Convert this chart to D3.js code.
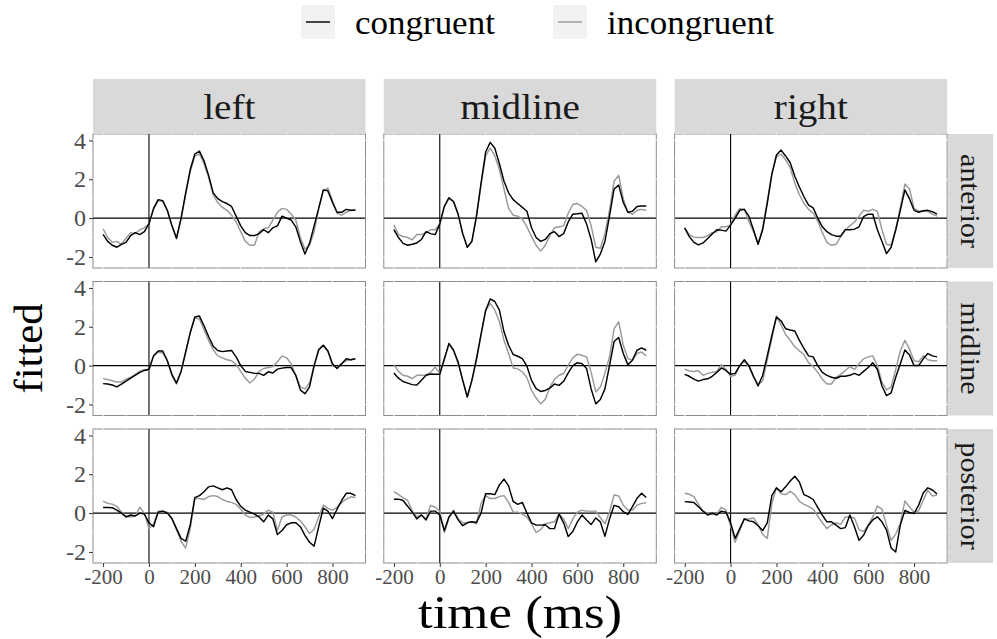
<!DOCTYPE html>
<html>
<head>
<meta charset="utf-8">
<script src="https://cdn.jsdelivr.net/npm/d3@7"></script>
<style>
  body { margin: 0; background: #fff; }
  svg { display: block; }
  text { font-family: "Liberation Serif", "Times New Roman", serif; }
</style>
</head>
<body>
<svg id="chart" width="997" height="639"></svg>
<script>
// Sampling grid (ms) shared by every waveform
const times = [-200,-180,-160,-140,-120,-100,-80,-60,-40,-20,0,20,40,60,80,100,120,140,160,180,
  200,220,240,260,280,300,320,340,360,380,400,420,440,460,480,500,520,540,560,580,
  600,620,640,660,680,700,720,740,760,780,800,820,840,860,880,900];

const hemispheres = ["left", "midline", "right"];      // facet columns
const regions = ["anterior", "midline", "posterior"];  // facet rows
const conditions = ["congruent", "incongruent"];
const conditionColors = ["#000000", "#999999"];

const xTicks = [-200, 0, 200, 400, 600, 800];
const yTicks = [-2, 0, 2, 4];

// anterior row
const antLeftCong = [-0.84,-1.2,-1.4,-1.5,-1.35,-1.25,-0.9,-0.75,-0.85,-0.7,-0.3,0.5,0.95,0.9,0.4,-0.4,-1.05,0.0,1.3,2.5,
  3.3,3.45,2.95,2.2,1.3,1.0,0.85,0.75,0.6,0.1,-0.4,-0.75,-0.9,-0.9,-0.8,-0.6,-0.75,-0.5,-0.4,0.1,
  0.0,-0.1,-0.45,-1.2,-1.85,-1.3,-0.4,0.5,1.45,1.4,0.8,0.3,0.3,0.45,0.4,0.4];
const antLeftIncong = [-0.55,-1.0,-1.25,-1.2,-1.35,-1.05,-0.75,-0.8,-0.6,-0.5,-0.3,0.45,0.9,0.85,0.4,-0.35,-1.0,-0.05,1.2,2.4,
  3.2,3.3,2.8,2.1,1.2,0.8,0.55,0.4,0.15,-0.2,-0.7,-1.2,-1.4,-1.4,-0.7,-0.55,-0.5,-0.1,0.3,0.5,
  0.45,0.2,-0.1,-1.0,-1.6,-1.4,-0.7,0.5,1.4,1.55,0.9,0.25,0.15,0.3,0.4,0.45];
const antMidCong = [-0.6,-1.0,-1.3,-1.4,-1.35,-1.28,-1.1,-0.7,-0.8,-0.85,-0.3,0.6,1.05,0.85,0.2,-0.8,-1.5,-1.2,0.1,1.8,
  3.4,3.9,3.6,2.8,1.9,1.3,0.95,0.75,0.55,0.35,-0.5,-1.0,-1.2,-1.1,-0.8,-0.7,-0.95,-0.8,-0.2,0.2,
  0.22,0.25,-0.3,-1.1,-2.25,-1.85,-1.2,0.1,1.5,1.7,0.8,0.3,0.35,0.6,0.62,0.62];
const antMidIncong = [-0.35,-0.85,-0.95,-1.0,-1.12,-0.85,-0.85,-0.75,-0.6,-0.6,-0.3,0.6,1.0,0.85,0.2,-0.8,-1.5,-1.2,0.1,1.7,
  3.2,3.6,3.2,2.5,1.5,0.5,0.15,0.1,-0.05,-0.45,-0.95,-1.4,-1.7,-1.4,-0.9,-0.5,-0.45,-0.4,0.25,0.7,
  0.75,0.6,0.4,-0.4,-1.5,-1.55,-0.8,0.4,1.9,2.2,1.0,0.3,0.2,0.4,0.45,0.4];
const antRightCong = [-0.5,-0.95,-1.25,-1.38,-1.28,-1.05,-0.82,-0.6,-0.62,-0.67,-0.36,0.0,0.4,0.45,0.1,-0.6,-1.35,-0.6,0.75,2.25,
  3.25,3.5,3.2,2.85,2.15,1.6,1.1,0.67,0.53,0.0,-0.45,-0.7,-0.85,-0.93,-0.93,-0.6,-0.6,-0.57,-0.45,0.08,
  0.2,0.2,-0.6,-1.2,-1.83,-1.5,-0.6,0.4,1.45,1.0,0.4,0.3,0.38,0.4,0.33,0.2];
const antRightIncong = [-0.5,-0.85,-0.98,-1.0,-1.0,-0.9,-0.75,-0.7,-0.45,-0.45,-0.35,0.15,0.5,0.45,-0.2,-0.7,-1.35,-0.5,0.9,2.3,
  3.15,3.3,3.0,2.6,1.8,1.2,0.75,0.45,0.25,-0.15,-0.75,-1.25,-1.4,-1.35,-0.95,-0.6,-0.4,-0.2,0.1,0.4,
  0.35,0.45,0.35,-0.6,-1.35,-1.4,-0.6,0.55,1.75,1.5,0.5,0.35,0.35,0.35,0.2,0.1];

// midline row
const midLeftCong = [-0.93,-0.95,-1.0,-1.1,-0.95,-0.8,-0.65,-0.5,-0.35,-0.25,-0.19,0.5,0.75,0.75,0.25,-0.45,-0.9,-0.3,0.7,1.7,
  2.5,2.55,2.05,1.5,1.0,0.78,0.72,0.75,0.78,0.45,0.0,-0.3,-0.35,-0.4,-0.4,-0.5,-0.32,-0.38,-0.18,-0.13,
  -0.1,-0.1,-0.5,-1.25,-1.45,-1.1,0.0,0.8,1.05,0.75,0.1,-0.15,0.1,0.35,0.3,0.35];
const midLeftIncong = [-0.67,-0.72,-0.78,-0.85,-0.85,-0.7,-0.6,-0.45,-0.3,-0.2,-0.25,0.5,0.7,0.65,0.25,-0.5,-0.95,-0.3,0.7,1.7,
  2.45,2.4,1.85,1.3,0.8,0.5,0.4,0.3,0.25,0.05,-0.3,-0.65,-0.9,-0.7,-0.3,-0.15,-0.1,-0.05,0.2,0.5,
  0.4,0.1,-0.5,-1.1,-1.2,-0.9,0.0,0.85,1.05,0.75,0.0,-0.1,0.1,0.25,0.3,0.35];
const midMidCong = [-0.38,-0.65,-0.82,-0.9,-0.98,-1.0,-0.75,-0.5,-0.43,-0.45,-0.45,0.36,1.14,0.79,0.19,-0.76,-1.62,-0.76,0.36,1.62,
  2.83,3.43,3.3,2.86,1.74,1.05,0.57,0.48,0.36,-0.03,-0.76,-1.19,-1.33,-1.28,-1.16,-0.95,-1.02,-0.81,-0.38,0.0,
  0.15,0.1,-0.15,-1.2,-1.97,-1.75,-1.2,0.0,1.24,1.45,0.62,0.05,0.28,0.79,0.91,0.79];
const midMidIncong = [0.05,-0.3,-0.5,-0.55,-0.67,-0.5,-0.5,-0.48,-0.35,-0.07,-0.4,0.28,1.1,0.8,0.1,-0.75,-1.6,-0.76,0.24,1.57,
  2.86,3.2,2.86,2.26,1.3,0.62,-0.12,-0.17,-0.33,-0.62,-1.28,-1.67,-1.97,-1.74,-1.1,-0.72,-0.5,-0.41,0.02,0.4,
  0.59,0.52,0.45,-0.35,-1.35,-1.1,-0.4,0.45,1.9,2.25,1.05,0.36,0.28,0.62,0.7,0.5];
const midRightCong = [-0.45,-0.55,-0.7,-0.8,-0.72,-0.68,-0.55,-0.35,-0.12,-0.25,-0.45,-0.4,0.0,0.3,0.0,-0.55,-1.05,-0.5,0.5,1.55,
  2.5,2.3,1.9,1.83,1.78,1.3,0.88,0.5,0.45,0.0,-0.35,-0.5,-0.6,-0.65,-0.55,-0.55,-0.5,-0.4,-0.5,-0.3,
  -0.1,0.15,-0.2,-1.05,-1.55,-1.4,-0.6,0.1,0.8,0.55,0.0,0.0,0.35,0.62,0.5,0.45];
const midRightIncong = [-0.19,-0.28,-0.3,-0.27,-0.5,-0.4,-0.35,-0.3,0.05,-0.2,-0.55,-0.5,0.0,0.22,-0.05,-0.6,-0.95,-0.8,0.3,1.4,
  2.55,2.1,1.6,1.3,0.97,0.76,0.57,0.15,-0.05,-0.35,-0.7,-0.95,-0.95,-0.6,-0.45,-0.25,-0.05,-0.2,0.1,0.35,
  0.45,0.5,0.0,-0.85,-1.25,-1.1,-0.2,0.75,1.3,0.85,0.25,0.2,0.5,0.3,0.25,0.25];

// posterior row
const postLeftCong = [0.29,0.29,0.28,0.15,0.0,-0.2,-0.1,-0.15,0.0,-0.05,-0.5,-0.7,0.05,0.1,0.0,-0.28,-0.8,-1.3,-1.45,-0.6,
  0.8,0.9,1.1,1.35,1.4,1.3,1.2,1.3,1.2,0.7,0.35,0.15,0.05,-0.05,-0.2,-0.45,-0.1,-0.3,-1.1,-0.9,
  -0.6,-0.5,-0.5,-0.7,-1.15,-1.5,-1.7,-0.7,0.25,0.1,-0.28,0.2,0.65,1.02,1.02,0.9];
const postLeftIncong = [0.62,0.5,0.46,0.35,0.05,-0.15,-0.2,-0.15,0.3,0.0,-0.8,-0.55,0.1,0.1,0.05,-0.3,-0.85,-1.45,-1.8,-0.8,
  0.75,0.75,0.7,0.85,0.9,0.85,0.7,0.6,0.55,0.45,0.2,-0.1,-0.22,-0.2,-0.15,-0.05,0.15,0.05,-0.9,-0.2,
  -0.1,-0.1,-0.2,-0.4,-0.7,-1.05,-0.83,-0.2,0.41,0.24,0.15,0.3,0.55,0.72,0.84,0.8];
const postMidCong = [0.71,0.72,0.65,0.35,0.05,-0.3,-0.1,-0.35,0.1,0.1,-0.1,-0.9,-0.2,0.1,-0.35,-0.65,-0.5,-0.45,-0.48,0.0,
  1.0,1.0,0.95,1.45,1.75,1.4,0.6,0.45,0.55,0.0,-0.5,-0.62,-0.62,-0.6,-0.8,-0.8,-0.05,-0.5,-1.2,-0.95,
  -0.45,-0.1,-0.36,-0.59,-0.25,-0.45,-1.2,-0.3,0.4,0.33,0.07,-0.07,0.33,0.76,1.02,0.8];
const postMidIncong = [1.1,0.95,0.8,0.65,0.1,-0.2,-0.1,-0.3,0.4,0.3,0.1,-1.0,-0.25,0.15,-0.3,-0.5,-0.48,-0.45,-0.55,0.5,
  0.9,0.75,0.75,0.85,0.9,0.55,0.05,0.05,-0.05,-0.2,-0.55,-1.0,-0.85,-0.55,-0.5,-0.45,-0.05,-0.3,-0.8,-0.3,
  0.05,0.15,0.1,0.1,0.1,-0.24,-0.55,0.07,0.93,0.88,0.41,0.16,0.16,0.41,0.5,0.53];
const postRightCong = [0.59,0.57,0.55,0.33,0.1,-0.1,0.0,-0.1,0.1,0.05,-0.5,-1.3,-0.8,-0.3,-0.4,-0.45,-0.65,-0.9,-0.5,0.9,
  1.3,1.1,1.35,1.65,1.9,1.6,0.95,0.85,0.7,0.3,-0.1,-0.45,-0.45,-0.62,-0.8,-0.75,-0.1,-0.7,-1.4,-1.14,
  -0.65,-0.35,-0.19,-0.45,-0.88,-1.8,-2.0,-0.62,0.14,0.03,-0.02,0.41,1.03,1.3,1.19,0.98];
const postRightIncong = [1.02,0.97,0.85,0.45,0.08,0.0,-0.08,-0.05,0.3,0.15,-0.65,-1.5,-0.9,-0.3,-0.3,-0.25,-0.6,-1.1,-1.3,0.5,
  1.3,1.0,0.95,1.12,0.95,0.6,0.45,0.35,0.2,-0.15,-0.5,-0.8,-0.6,-0.5,-0.58,-0.2,-0.2,-0.25,-0.85,-0.95,
  -0.62,-0.2,0.36,0.2,-0.62,-1.4,-1.08,-0.53,0.62,0.33,0.03,0.12,0.67,1.17,0.88,0.93];

// [region][hemisphere] -> [congruent, incongruent]
const waveforms = [
  [[antLeftCong, antLeftIncong], [antMidCong, antMidIncong], [antRightCong, antRightIncong]],
  [[midLeftCong, midLeftIncong], [midMidCong, midMidIncong], [midRightCong, midRightIncong]],
  [[postLeftCong, postLeftIncong], [postMidCong, postMidIncong], [postRightCong, postRightIncong]]
];

// ---- layout ----
const svg = d3.select("#chart");
const panelLeft = 93, panelTop = 134;
const panelW = 272.5, panelH = 134;
const colStep = 290.8, rowStep = 147.5;
const stripH = 55, rightStripW = 45;
const wide = 1.12; // horizontal stretch for the display text

const x = d3.scaleLinear().domain([-244, 944]).range([0, panelW]);
const y = d3.scaleLinear().domain([-2.57, 4.33]).range([panelH, 0]);
const xMinor = [-100, 100, 300, 500, 700, 900];
const yMinor = [-1, 1, 3];

const line = d3.line()
  .x((d, i) => x(times[i]))
  .y(d => y(d));

svg.append("defs").append("clipPath").attr("id", "panel-clip")
  .append("rect").attr("width", panelW).attr("height", panelH);

const signed = d => d < 0 ? "-" + Math.abs(d) : String(d);

regions.forEach((region, r) => {
  hemispheres.forEach((hemi, c) => {
    const px = panelLeft + c * colStep;
    const py = panelTop + r * rowStep;
    const g = svg.append("g").attr("transform", `translate(${px},${py})`);

    g.append("rect").attr("width", panelW).attr("height", panelH)
      .attr("fill", "#fff").attr("stroke", "#8c8c8c").attr("stroke-width", 1);

    // white grid lines, visible only where they cross the border
    const grid = g.append("g").attr("stroke", "#fff");
    xTicks.concat(xMinor).forEach(t => {
      grid.append("line").attr("x1", x(t)).attr("x2", x(t))
        .attr("y1", -0.5).attr("y2", panelH + 0.5)
        .attr("stroke-width", xTicks.includes(t) ? 1.1 : 0.6);
    });
    yTicks.concat(yMinor).forEach(v => {
      grid.append("line").attr("y1", y(v)).attr("y2", y(v))
        .attr("x1", -0.5).attr("x2", panelW + 0.5)
        .attr("stroke-width", yTicks.includes(v) ? 1.1 : 0.6);
    });

    // reference lines at 0 ms and 0 amplitude
    g.append("line").attr("x1", 0).attr("x2", panelW).attr("y1", y(0)).attr("y2", y(0))
      .attr("stroke", "#000").attr("stroke-width", 1.1);
    g.append("line").attr("x1", x(0)).attr("x2", x(0)).attr("y1", 0).attr("y2", panelH)
      .attr("stroke", "#000").attr("stroke-width", 1.1);

    const lines = g.append("g").attr("clip-path", "url(#panel-clip)");
    // incongruent first so the congruent trace sits on top
    [1, 0].forEach(k => {
      lines.append("path").datum(waveforms[r][c][k])
        .attr("d", line).attr("fill", "none")
        .attr("stroke", conditionColors[k]).attr("stroke-width", 1.45)
        .attr("stroke-linejoin", "round");
    });

    // y axis on the first column
    if (c === 0) {
      const ay = g.append("g").call(d3.axisLeft(y).tickValues(yTicks).tickSize(4).tickFormat(signed));
      ay.select(".domain").remove();
      ay.selectAll(".tick line").attr("stroke", "#333");
      ay.selectAll(".tick text").attr("fill", "#4d4d4d").attr("font-size", 24)
        .attr("x", -7).style("font-family", "Liberation Serif, serif");
    }
    // x axis on the bottom row
    if (r === regions.length - 1) {
      const ax = g.append("g").attr("transform", `translate(0,${panelH})`)
        .call(d3.axisBottom(x).tickValues(xTicks).tickSize(4).tickFormat(signed));
      ax.select(".domain").remove();
      ax.selectAll(".tick line").attr("stroke", "#333");
      ax.selectAll(".tick text").attr("fill", "#4d4d4d").attr("font-size", 21)
        .attr("y", 6).style("font-family", "Liberation Serif, serif");
    }
  });
});

// column strips
hemispheres.forEach((hemi, c) => {
  const sx = panelLeft + c * colStep;
  const sy = panelTop - stripH;
  svg.append("rect").attr("x", sx).attr("y", sy).attr("width", panelW).attr("height", stripH)
    .attr("fill", "#d9d9d9");
  svg.append("text")
    .attr("transform", `translate(${sx + panelW / 2},${sy + stripH / 2 + 1}) scale(${wide},1)`)
    .attr("text-anchor", "middle").attr("dominant-baseline", "central")
    .attr("font-size", 35).attr("fill", "#1a1a1a").text(hemi);
});

// row strips
regions.forEach((region, r) => {
  const sx = panelLeft + 2 * colStep + panelW + 1;
  const sy = panelTop + r * rowStep;
  svg.append("rect").attr("x", sx).attr("y", sy).attr("width", rightStripW).attr("height", panelH)
    .attr("fill", "#d9d9d9");
  svg.append("text")
    .attr("transform", `translate(${sx + rightStripW / 2},${sy + panelH / 2}) rotate(90) scale(${wide},1)`)
    .attr("text-anchor", "middle").attr("dominant-baseline", "central")
    .attr("font-size", 27).attr("fill", "#1a1a1a").text(region);
});

// axis titles
const gridRight = panelLeft + 2 * colStep + panelW;
svg.append("text")
  .attr("transform", `translate(${(panelLeft + gridRight) / 2},628) scale(1.15,1)`)
  .attr("text-anchor", "middle").attr("font-size", 46).attr("fill", "#000").text("time (ms)");
svg.append("text")
  .attr("transform", `translate(28,${panelTop + (rowStep * 2 + panelH) / 2}) rotate(-90) scale(1.04,1)`)
  .attr("text-anchor", "middle").attr("dominant-baseline", "central")
  .attr("font-size", 41).attr("fill", "#000").text("fitted");

// legend
const legendKeys = [301, 553];
conditions.forEach((cond, k) => {
  const lx = legendKeys[k];
  svg.append("rect").attr("x", lx).attr("y", 5).attr("width", 34).attr("height", 34).attr("fill", "#f2f2f2");
  svg.append("line").attr("x1", lx + 5).attr("x2", lx + 29).attr("y1", 22).attr("y2", 22)
    .attr("stroke", conditionColors[k]).attr("stroke-width", 1.45);
  svg.append("text")
    .attr("transform", `translate(${lx + 54},23) scale(1.06,1)`)
    .attr("dominant-baseline", "central")
    .attr("font-size", 33).attr("fill", "#000").text(cond);
});
</script>
</body>
</html>
